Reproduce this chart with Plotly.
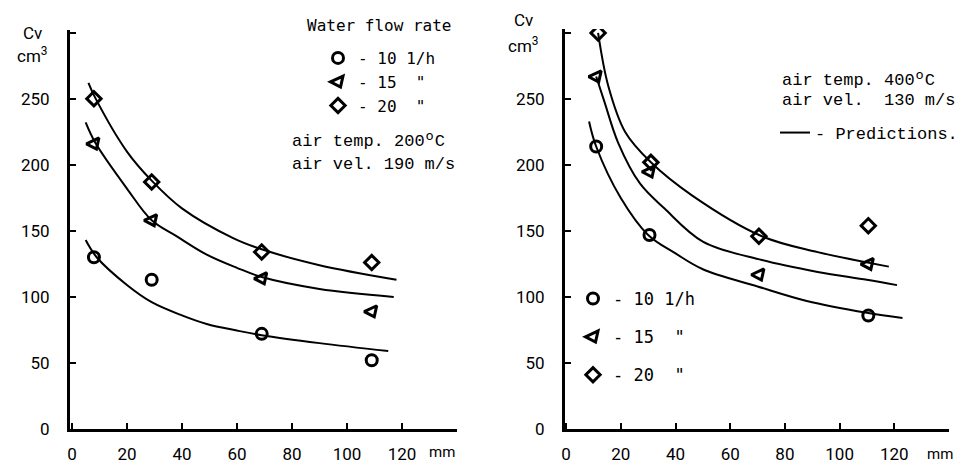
import plotly.graph_objects as go

# ---------------- data ----------------
# left panel: air temp 200 C, air vel 190 m/s
L_x = [8, 29, 69, 109]
L_c10 = [130, 113, 72, 52]
L_c15 = [216, 158, 114, 89]
L_c20 = [250, 187, 134, 126]
# prediction curves
L_p10_x = [5, 9, 20, 29, 40, 49, 60, 69, 90, 115]
L_p10_y = [143, 130, 109, 96, 86, 79.5, 74.5, 71, 65, 59]
L_p15_x = [5, 8.4, 20, 29, 38, 49, 60, 69, 90, 117]
L_p15_y = [232, 217, 182, 158, 146, 132, 122, 115, 106, 100]
L_p20_x = [6, 8.4, 20, 29, 40, 58.6, 69, 90, 118]
L_p20_y = [262, 251, 210, 188, 167, 144.5, 136, 124, 113]

# right panel: air temp 400 C, air vel 130 m/s
R_c10_x = [11, 30.5, 110.5]
R_c10_y = [214, 147, 86]
R_c15_x = [11, 30.5, 70.5, 110.5]
R_c15_y = [267, 195, 117, 125]
R_c20_x = [11.7, 31, 70.5, 110.5]
R_c20_y = [300, 202, 146, 154]
R_p10_x = [8.4, 11, 20, 30, 40, 50, 70, 88, 110, 123]
R_p10_y = [233, 214, 175, 147, 133, 121, 108, 97, 88, 84]
R_p15_x = [11, 14, 19, 27, 36, 50, 71.6, 92, 110, 121]
R_p15_y = [267, 248, 217, 186, 167, 142, 128, 119, 113, 109]
R_p20_x = [11.7, 15.4, 21.6, 31, 46, 71.6, 92, 118]
R_p20_y = [300, 260, 225, 202, 177, 146, 134, 123]

x_ticks = [0, 20, 40, 60, 80, 100, 120, 140]
x_text = ["0", "20", "40", "60", "80", "100", "120", ""]
y_ticks = [0, 50, 100, 150, 200, 250, 300]
y_text = ["0", "50", "100", "150", "200", "250", ""]

names = ["- 10 1/h", "- 15  \"", "- 20  \""]

W, H = 975, 468
def px(x):
    return x / W
def py(y):
    return 1 - y / H

TICKFONT = dict(family="Liberation Sans Narrow, Roboto, DejaVu Sans, sans-serif", size=17, color="black")
MONO = "DejaVu Sans Mono, monospace"
TYPE = "Liberation Mono, DejaVu Sans Mono, monospace"

fig = go.Figure()

symbols = ["circle-open", "triangle-down-open", "diamond-open"]
sizes = [11, 12, 11]
angles = [0, -25, 0]

# prediction curves
for (xs, ys) in [(L_p10_x, L_p10_y), (L_p15_x, L_p15_y), (L_p20_x, L_p20_y)]:
    fig.add_trace(go.Scatter(x=xs, y=ys, mode="lines", line=dict(color="black", width=2, shape="spline", smoothing=1.0),
                             xaxis="x", yaxis="y", showlegend=False, hoverinfo="skip"))
for i, (xs, ys) in enumerate([(R_p10_x, R_p10_y), (R_p15_x, R_p15_y), (R_p20_x, R_p20_y)]):
    fig.add_trace(go.Scatter(x=xs, y=ys, mode="lines", line=dict(color="black", width=2, shape="spline", smoothing=1.0),
                             xaxis="x2", yaxis="y2", showlegend=(i == 0), legend="legend3",
                             name="- Predictions."))

# measured points
for i, ys in enumerate([L_c10, L_c15, L_c20]):
    fig.add_trace(go.Scatter(x=L_x, y=ys, mode="markers", name=names[i], legend="legend",
                             legendgroup="l%d" % i,
                             marker=dict(symbol=symbols[i], size=sizes[i], angle=angles[i], color="black",
                                         line=dict(width=3, color="black")),
                             xaxis="x", yaxis="y"))
for i, (xs, ys) in enumerate([(R_c10_x, R_c10_y), (R_c15_x, R_c15_y), (R_c20_x, R_c20_y)]):
    fig.add_trace(go.Scatter(x=xs, y=ys, mode="markers", name=names[i], legend="legend2",
                             legendgroup="r%d" % i,
                             marker=dict(symbol=symbols[i], size=sizes[i], angle=angles[i], color="black",
                                         line=dict(width=3, color="black")),
                             xaxis="x2", yaxis="y2"))

axis_common = dict(showline=True, linewidth=3, linecolor="black", showgrid=False, zeroline=False,
                   ticks="inside", ticklen=6, tickwidth=2, tickcolor="black", tickfont=TICKFONT,
                   automargin=False)

fig.update_layout(
    width=W, height=H, margin=dict(l=0, r=0, t=0, b=0, autoexpand=False),
    paper_bgcolor="white", plot_bgcolor="white",
    xaxis=dict(domain=[px(70), px(457)], range=[-0.7, 140], tickvals=x_ticks, ticktext=x_text,
               anchor="y", ticklabelstandoff=8, **axis_common),
    yaxis=dict(domain=[py(429), py(30)], range=[0, 302], tickvals=y_ticks, ticktext=y_text,
               anchor="x", ticklabelstandoff=14, **axis_common),
    xaxis2=dict(domain=[px(565), px(949)], range=[-0.4, 140], tickvals=x_ticks, ticktext=x_text,
                anchor="y2", ticklabelstandoff=8, **axis_common),
    yaxis2=dict(domain=[py(429), py(29)], range=[0, 303], tickvals=y_ticks, ticktext=y_text,
                anchor="x2", ticklabelstandoff=14, **axis_common),
    legend=dict(x=px(318), y=py(41), xanchor="left", yanchor="top", bgcolor="rgba(0,0,0,0)",
                font=dict(family=MONO, size=16, color="black"), tracegroupgap=0, itemwidth=30),
    legend2=dict(x=px(573), y=py(281), xanchor="left", yanchor="top", bgcolor="rgba(0,0,0,0)",
                 font=dict(family=MONO, size=17, color="black"), tracegroupgap=13, itemwidth=30),
    legend3=dict(x=px(775), y=py(115), xanchor="left", yanchor="top", bgcolor="rgba(0,0,0,0)",
                 font=dict(family=TYPE, size=17, color="black"), itemwidth=30),
    showlegend=True,
)

ann = [
    dict(x=px(379), y=py(25), text="Water flow rate", font=dict(family=MONO, size=16)),
    dict(x=px(290), y=py(141), text="air temp. 200ºC", xanchor="left", font=dict(family=TYPE, size=17)),
    dict(x=px(290), y=py(164), text="air vel. 190 m/s", xanchor="left", font=dict(family=TYPE, size=17)),
    dict(x=px(780), y=py(80), text="air temp. 400ºC", xanchor="left", font=dict(family=TYPE, size=17)),
    dict(x=px(780), y=py(100), text="air vel.  130 m/s", xanchor="left", font=dict(family=TYPE, size=17)),
    dict(x=px(32), y=py(33), text="Cv", font=TICKFONT),
    dict(x=px(32), y=py(55), text="cm<sup>3</sup>", font=TICKFONT),
    dict(x=px(523), y=py(20), text="Cv", font=TICKFONT),
    dict(x=px(523), y=py(45), text="cm<sup>3</sup>", font=TICKFONT),
    dict(x=px(442), y=py(452), text="mm", font=dict(family=TICKFONT["family"], size=15)),
    dict(x=px(940), y=py(454), text="mm", font=dict(family=TICKFONT["family"], size=15)),
]
for a in ann:
    a.setdefault("xanchor", "center")
    f = dict(color="black")
    f.update(a.pop("font"))
    fig.add_annotation(xref="paper", yref="paper", yanchor="middle", showarrow=False, font=f, **a)

fig.write_html("out.html")
